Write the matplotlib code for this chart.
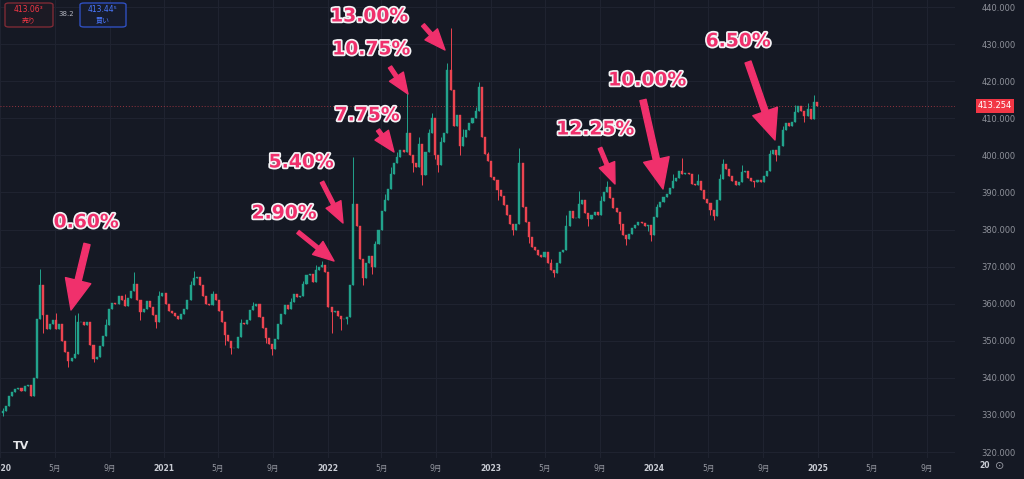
import matplotlib
matplotlib.use('Agg')
import matplotlib.pyplot as plt
import matplotlib.dates as mdates
import matplotlib.patches as mpatches
import matplotlib.patheffects as pe
import numpy as np
import pandas as pd

# weekly EUR/HUF closes, 2020-01-06 .. 2024-12-30
closes = [
    331, 332.5, 335, 336.3, 337, 337.3, 336.5, 337.7, 338, 335.2,
    340, 356, 365, 357, 353.3, 354.5, 355.5, 353.2, 354.5, 350,
    347, 344.5, 345.3, 346.5, 355, 355, 354.3, 355, 349, 345.2,
    345.7, 348.6, 351.4, 354.2, 358.5, 360.3, 360, 362, 361, 359.5,
    361.5, 363.5, 365.3, 361, 357.7, 358.6, 360.7, 359.2, 357, 355,
    362, 363, 360, 358, 357.6, 356.7, 356, 357.3, 358.6, 361,
    365, 367, 367.2, 365, 362, 360, 359.7, 362.5, 361, 358,
    355, 351.5, 350, 348, 348, 351, 354.7, 354.5, 355.6, 358.2,
    359.3, 359.8, 356.5, 353.5, 350.8, 349.2, 347.7, 350.5, 354.6, 357.3,
    359.7, 358.7, 360.4, 362.7, 361.7, 362, 365.3, 367.8, 368, 365.9,
    369.1, 370, 370.5, 368.5, 359, 357.8, 358.1, 356.8, 355.9, 356,
    356.4, 365, 387, 381, 372, 367, 371, 373, 370, 376,
    380, 385, 388, 391, 395, 398, 399.6, 401.5, 400.8, 406,
    400, 398, 397, 403, 394.6, 401, 406, 410, 400, 397.5,
    403.6, 406, 423, 417.6, 408, 411, 402.5, 405, 406.8, 408.8,
    410.2, 412, 418.4, 405, 400.3, 398.5, 394.3, 393.3, 390.6, 389,
    386.5, 383.8, 381.5, 380, 381.5, 398, 386, 382, 378, 375.3,
    374.5, 373.2, 372.5, 374, 371, 369, 368.3, 371, 373.9, 374.5,
    381, 385, 383, 383, 387, 388, 384.4, 382.8, 384, 384.7,
    383.8, 387.6, 390, 391.4, 388.5, 385.7, 384.7, 381.5, 378.4, 377.5,
    378.7, 380.4, 381.2, 382, 381.8, 381, 381.2, 378.5, 383.4, 386,
    387.3, 388.9, 389.7, 391.2, 393.2, 393.9, 395.9, 395, 395.2, 395,
    392.3, 391.9, 393, 390.8, 388.3, 387.1, 385.2, 383.7, 388, 393.6,
    397.8, 396.2, 394.5, 393, 392, 392.8, 395.6, 395.8, 394, 393.2,
    392.9, 393.3, 392.8, 394.4, 395.9, 400.3, 401.5, 400, 402.5, 406.8,
    408.7, 408, 409, 411.6, 413.3, 412, 410.5, 412.6, 409.8, 414.5,
    413.254,
]
first_open = 330.5

# visible wick extremes (week index -> price)
wick_highs = {0: 332, 12: 369.4, 17: 357.5, 23: 357, 24: 357.5, 33: 356, 39: 362.5,
              42: 368.6, 50: 363.5, 60: 366, 61: 368.8, 67: 363.5, 76: 356, 80: 360.5,
              92: 361.5, 96: 366, 100: 370.5, 102: 371.5, 112: 399.6, 119: 377,
              122: 389.5, 124: 397, 126: 401, 129: 416.8, 133: 405, 136: 407,
              137: 411.5, 140: 405, 142: 425, 143: 434.3, 147: 407, 151: 413,
              152: 419.8, 155: 401, 165: 402, 175: 372, 180: 384, 184: 390.5,
              191: 389, 193: 393, 209: 387, 214: 395, 217: 399.3, 222: 395,
              229: 395, 230: 399, 236: 397.5, 245: 401.5, 249: 408, 253: 413.5,
              257: 414, 259: 416.3}
wick_lows = {0: 329.8, 13: 352, 21: 343, 29: 344.3, 44: 355.5, 49: 353.5, 71: 349,
             73: 346.5, 84: 349.5, 86: 346.2, 105: 352, 108: 353, 110: 354.5,
             115: 365, 118: 368, 131: 395.5, 134: 392, 138: 399, 139: 395.5,
             146: 400, 158: 388, 163: 378.5, 168: 376.5, 176: 367.2, 187: 381,
             197: 380, 199: 375.8, 206: 379.5, 207: 377, 226: 383.8, 227: 382.6,
             240: 391.5, 247: 398.5, 256: 409}

last_price = '413.254'
price_ticks = [320, 330, 340, 350, 360, 370, 380, 390, 400, 410, 420, 430, 440]
years = [2020, 2021, 2022, 2023, 2024, 2025]

# rate annotations: label, label centre, arrow tail, arrow tip (pixels from top-left), big head
notes = [
    ('0.60%', (86, 222), (87, 244), (71, 310), True),
    ('2.90%', (284, 213), (298, 232), (334, 261), False),
    ('5.40%', (301, 162), (322, 182), (343, 223), False),
    ('7.75%', (367, 115), (378, 130), (394, 152), False),
    ('10.75%', (371, 49), (390, 67), (408, 94), False),
    ('13.00%', (369, 16), (423, 25), (445, 50), False),
    ('12.25%', (595, 129), (600, 148), (615, 184), False),
    ('10.00%', (647, 80), (643, 100), (663, 189), True),
    ('6.50%', (738, 41), (748, 62), (775, 140), True),
]

BG = '#151924'
GRID = '#1f2330'
UP = '#22a38c'
DOWN = '#ec4450'
PINK = '#f0306c'
W, H = 1024, 479

closes = np.array(closes)
opens = np.concatenate([[first_open], closes[:-1]])
highs = np.maximum(opens, closes)
lows = np.minimum(opens, closes)
for k, v in wick_highs.items():
    highs[k] = v
for k, v in wick_lows.items():
    lows[k] = v

dates = pd.date_range('2020-01-06', periods=len(closes), freq='W-MON')
x = mdates.date2num(dates)
colors = np.where(closes >= opens, UP, DOWN)

fig = plt.figure(figsize=(W / 100, H / 100), dpi=100, facecolor=BG)
ax = fig.add_axes([0, 21 / H, 955 / W, 458 / H])
ax.set_facecolor(BG)

x0 = mdates.date2num(pd.Timestamp('2020-01-01'))
ax.set_xlim(x0 - 1, x0 + 955 * 2.234)
ax.set_ylim(318.4, 441.9)

# grid
ticks, labels, is_year = [], [], []
for y in years:
    for m, lab in [(1, str(y)), (5, '5月'), (9, '9月')]:
        ticks.append(mdates.date2num(pd.Timestamp(y, m, 1)))
        labels.append(lab)
        is_year.append(m == 1)
for t in ticks:
    ax.axvline(t, color=GRID, lw=0.8, zorder=0)
for p in price_ticks:
    ax.axhline(p, color=GRID, lw=0.8, zorder=0)

# candles
ax.vlines(x, lows, highs, colors=colors, lw=0.7, zorder=2)
ax.bar(x, closes - opens, bottom=opens, width=4.6, color=colors,
       edgecolor=colors, linewidth=0.3, zorder=3)

# last price line
ax.axhline(float(last_price), color=DOWN, lw=0.7, ls=(0, (1, 2)), alpha=0.6, zorder=1)

ax.set_xticks(ticks)
ax.set_xticklabels(labels, fontfamily=['DejaVu Sans', 'Noto Sans CJK JP'])
for lab, yr in zip(ax.get_xticklabels(), is_year):
    lab.set_fontsize(5.5)
    if yr:
        lab.set_fontweight('bold')
        lab.set_color('#c9ccd4')
    else:
        lab.set_color('#9598a1')
ax.tick_params(axis='x', length=0, pad=4)

ax.yaxis.tick_right()
ax.set_yticks(price_ticks)
ax.set_yticklabels([f'{p:.3f}' for p in price_ticks])
ax.tick_params(axis='y', length=0, pad=19, labelsize=6, labelcolor='#8f929b')
for s in ax.spines.values():
    s.set_visible(False)


def fx(px):
    return px / W


def fy(py):
    return 1 - py / H


# price tag
fig.text(fx(995), fy(106), last_price, color='white', fontsize=6, ha='center', va='center',
         bbox=dict(boxstyle='square,pad=0.25', fc='#f23645', ec='none'))

# header boxes
fig.patches.append(mpatches.FancyBboxPatch((fx(5), fy(27)), 48 / W, 24 / H,
                   boxstyle='round,pad=0,rounding_size=0.004', transform=fig.transFigure,
                   fc='#1c1a24', ec='#7d2a35', lw=1))
fig.patches.append(mpatches.FancyBboxPatch((fx(80), fy(27)), 46 / W, 24 / H,
                   boxstyle='round,pad=0,rounding_size=0.004', transform=fig.transFigure,
                   fc='#171c2c', ec='#2f4fbf', lw=1))
fam = ['DejaVu Sans', 'Noto Sans CJK JP']
fig.text(fx(29), fy(10), '413.06³', color='#f23645', fontsize=5.5, ha='center', va='center', family=fam)
fig.text(fx(29), fy(20), '売り', color='#f23645', fontsize=5, ha='center', va='center', family=fam)
fig.text(fx(66), fy(14), '38.2', color='#b2b5be', fontsize=5, ha='center', va='center')
fig.text(fx(103), fy(10), '413.44⁵', color='#4a78ff', fontsize=5.5, ha='center', va='center', family=fam)
fig.text(fx(103), fy(20), '買い', color='#4a78ff', fontsize=5, ha='center', va='center', family=fam)

# logo and corner bits
fig.text(fx(21), fy(446), 'TV', color='#e6e7ea', fontsize=8, fontweight='bold', ha='center', va='center')
fig.text(fx(985), fy(466), '20', color='#c9ccd4', fontsize=5.5, fontweight='bold', ha='center', va='center')
fig.text(fx(1000), fy(466), '⊙', color='#9598a1', fontsize=8, ha='center', va='center')

# rate annotations
outline = [pe.withStroke(linewidth=2.5, foreground='#f4f4f6')]
for text, (lx, ly), (tx, ty), (hx, hy), big in notes:
    fig.text(fx(lx), fy(ly), text, color=PINK, fontsize=13.5, fontweight='bold',
             ha='center', va='center', path_effects=outline, zorder=10)
    if big:
        style = 'simple,head_length=1.45,head_width=1.25,tail_width=0.3'
    else:
        style = 'simple,head_length=1.0,head_width=0.8,tail_width=0.18'
    ax.annotate('', xy=(hx, H - hy), xytext=(tx, H - ty),
                xycoords='figure pixels', textcoords='figure pixels',
                arrowprops=dict(arrowstyle=style, color=PINK, mutation_scale=15,
                                shrinkA=0, shrinkB=0), zorder=10)

fig.savefig('out.png', dpi=100, facecolor=BG)
